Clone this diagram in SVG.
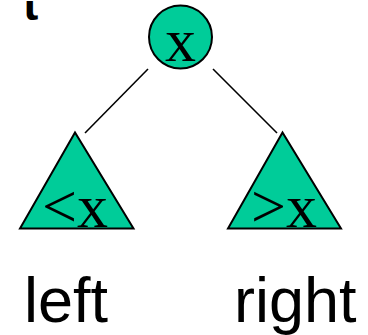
<svg xmlns="http://www.w3.org/2000/svg" width="368" height="335" viewBox="0 0 368 335">
  <style>
    .shape { fill: #00CC99; stroke: #000; stroke-width: 2; }
    .edge { stroke: #000; stroke-width: 1.6; fill: none; }
    .key { font-family: "Liberation Serif", "Times New Roman", serif; font-size: 62px; fill: #000; }
    .name { font-family: "Liberation Sans", Arial, sans-serif; font-size: 63px; fill: #000; }
  </style>
  <defs>
    <clipPath id="edge-clip">
      <rect x="0" y="1" width="60" height="30"/>
    </clipPath>
  </defs>
  <rect width="368" height="335" fill="#fff"/>
  <!-- glyph stub at the top-left edge, only its foot shows -->
  <g clip-path="url(#edge-clip)">
    <text x="23" y="20" font-family="Liberation Sans, Arial, sans-serif" font-weight="bold" font-size="46">t</text>
  </g>
  <g id="connectors">
    <line class="edge" x1="148" y1="69" x2="85" y2="133"/>
    <line class="edge" x1="213" y1="69" x2="277" y2="133"/>
  </g>
  <g id="root">
    <circle class="shape" cx="180.5" cy="37" r="31.5"/>
    <text class="key" x="180.5" y="61" text-anchor="middle">x</text>
  </g>
  <g id="left-subtree">
    <polygon class="shape" points="75,132.5 20,228.5 133.5,228.5"/>
    <text class="key" x="42" y="227">&lt;x</text>
  </g>
  <g id="right-subtree">
    <polygon class="shape" points="282.5,132.5 228,228.5 341,228.5"/>
    <text class="key" x="251" y="227">&gt;x</text>
  </g>
  <g id="labels">
    <text class="name" x="24" y="322">left</text>
    <text class="name" x="234" y="322">right</text>
  </g>
</svg>
